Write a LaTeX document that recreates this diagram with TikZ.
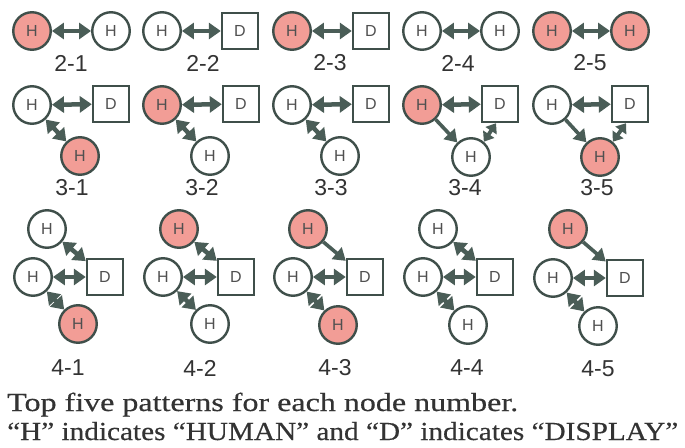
\documentclass[tikz,border=0pt]{standalone}
\usepackage{fontspec}
\usetikzlibrary{arrows.meta}
\newfontfamily\labfont{Liberation Sans}
\newfontfamily\capfont[FakeBold=0.4]{Liberation Serif}
\definecolor{edgec}{HTML}{3F4F4A}
\definecolor{arrc}{HTML}{4A5D57}
\definecolor{pinkc}{HTML}{F29D96}
\definecolor{htext}{HTML}{505050}
\definecolor{labc}{HTML}{333333}
\tikzset{
  hum/.style={circle, draw=edgec, line width=2.4pt, minimum size=37.5pt, inner sep=0pt,
    fill=white, text=htext, font=\labfont\fontsize{16}{16}\selectfont},
  hp/.style={hum, fill=pinkc},
  disp/.style={rectangle, draw=edgec, line width=2.4pt, minimum size=36pt, inner sep=0pt,
    fill=white, text=htext, font=\labfont\fontsize{16}{16}\selectfont},
  bi/.style={draw=arrc, line width=4.5pt,
    {Triangle[length=12pt,width=16pt]}-{Triangle[length=12pt,width=16pt]}},
  bishort/.style={draw=arrc, line width=3.8pt,
    {Triangle[length=9pt,width=13pt]}-{Triangle[length=9pt,width=13pt]}},
  uni/.style={draw=arrc, line width=3.6pt, -{Triangle[length=12pt,width=15pt]}},
  lab/.style={text=labc, font=\labfont\fontsize{23}{23}\selectfont, inner sep=0pt},
  captxt/.style={anchor=base west, inner sep=0pt, text=labc,
    font=\capfont\fontsize{26}{26}\selectfont},
}
\begin{document}
\begin{tikzpicture}[x=1pt, y=-1pt]
\useasboundingbox[fill=white] (0,0) rectangle (685,447);

% ---- two nodes ----
\node[hp]  (a1l) at (32,31) {H};
\node[hum] (a1r) at (111,31) {H};
\draw[bi] (a1l) -- (a1r);
\node[lab] (a1t) at (71,63) {2-1};

\node[hum]  (a2l) at (162,31) {H};
\node[disp] (a2r) at (240,31) {D};
\draw[bi] (a2l) -- (a2r);
\node[lab] (a2t) at (203,63) {2-2};

\node[hp]   (a3l) at (292,31) {H};
\node[disp] (a3r) at (371,31) {D};
\draw[bi] (a3l) -- (a3r);
\node[lab] (a3t) at (330,63) {2-3};

\node[hum] (a4l) at (422,31) {H};
\node[hum] (a4r) at (500,31) {H};
\draw[bi] (a4l) -- (a4r);
\node[lab] (a4t) at (458,63) {2-4};

\node[hp] (a5l) at (552,31) {H};
\node[hp] (a5r) at (630,31) {H};
\draw[bi] (a5l) -- (a5r);
\node[lab] (a5t) at (590,63) {2-5};

% ---- three nodes ----
\node[hum]  (b1h) at (32,105) {H};
\node[disp] (b1d) at (111,104) {D};
\node[hp]   (b1b) at (80,156) {H};
\draw[bi] (b1h) -- (b1d);
\draw[bi] (b1h) -- (b1b);
\node[lab] (b1t) at (72,188) {3-1};

\node[hp]   (b2h) at (162,105) {H};
\node[disp] (b2d) at (241,104) {D};
\node[hum]  (b2b) at (210,156) {H};
\draw[bi] (b2h) -- (b2d);
\draw[bi] (b2h) -- (b2b);
\node[lab] (b2t) at (202,188) {3-2};

\node[hum]  (b3h) at (292,105) {H};
\node[disp] (b3d) at (371,104) {D};
\node[hum]  (b3b) at (340,156) {H};
\draw[bi] (b3h) -- (b3d);
\draw[bi] (b3h) -- (b3b);
\node[lab] (b3t) at (331,188) {3-3};

\node[hp]   (b4h) at (422,105) {H};
\node[disp] (b4d) at (500,104) {D};
\node[hum]  (b4b) at (471,157) {H};
\draw[bi] (b4h) -- (b4d);
\draw[uni] (b4h) -- (b4b);
\draw[bishort] ([xshift=-4pt]b4d.south) -- (b4b.50);
\node[lab] (b4t) at (465,188) {3-4};

\node[hum]  (b5h) at (552,105) {H};
\node[disp] (b5d) at (630,104) {D};
\node[hp]   (b5b) at (600,157) {H};
\draw[bi] (b5h) -- (b5d);
\draw[uni] (b5h) -- (b5b);
\draw[bishort] ([xshift=-4pt]b5d.south) -- (b5b.50);
\node[lab] (b5t) at (597,188) {3-5};

% ---- four nodes ----
\node[hum]  (c1u) at (47,229) {H};
\node[hum]  (c1m) at (33,277) {H};
\node[disp] (c1d) at (105,277) {D};
\node[hp]   (c1b) at (78,324) {H};
\draw[bi] (c1u) -- (c1d);
\draw[bi] (c1m) -- (c1d);
\draw[bi] (c1m) -- (c1b);
\node[lab] (c1t) at (68,368) {4-1};

\node[hp]   (c2u) at (179,229) {H};
\node[hum]  (c2m) at (163,277) {H};
\node[disp] (c2d) at (236,277) {D};
\node[hum]  (c2b) at (210,324) {H};
\draw[bi] (c2u) -- (c2d);
\draw[bi] (c2m) -- (c2d);
\draw[bi] (c2m) -- (c2b);
\node[lab] (c2t) at (200,368) {4-2};

\node[hp]   (c3u) at (308,229) {H};
\node[hum]  (c3m) at (293,277) {H};
\node[disp] (c3d) at (365,277) {D};
\node[hp]   (c3b) at (338,325) {H};
\draw[uni] (c3u) -- (c3d);
\draw[bi] (c3m) -- (c3d);
\draw[bi] (c3m) -- (c3b);
\node[lab] (c3t) at (335,368) {4-3};

\node[hum]  (c4u) at (438,229) {H};
\node[hum]  (c4m) at (423,277) {H};
\node[disp] (c4d) at (495,277) {D};
\node[hum]  (c4b) at (468,325) {H};
\draw[bi] (c4u) -- (c4d);
\draw[bi] (c4m) -- (c4d);
\draw[bi] (c4m) -- (c4b);
\node[lab] (c4t) at (467,368) {4-4};

\node[hp]   (c5u) at (568,229) {H};
\node[hum]  (c5m) at (553,278) {H};
\node[disp] (c5d) at (625,278) {D};
\node[hum]  (c5b) at (598,326) {H};
\draw[uni] (c5u) -- (c5d);
\draw[bi] (c5m) -- (c5d);
\draw[bi] (c5m) -- (c5b);
\node[lab] (c5t) at (598,369) {4-5};

% ---- caption ----
\node[captxt] (cap1) at (7,411) {\resizebox{511pt}{\height}{Top five patterns for each node number.}};
\node[captxt] (cap2) at (7,440) {\resizebox{671pt}{\height}{“H” indicates “HUMAN” and “D” indicates “DISPLAY”}};
\end{tikzpicture}
\end{document}
